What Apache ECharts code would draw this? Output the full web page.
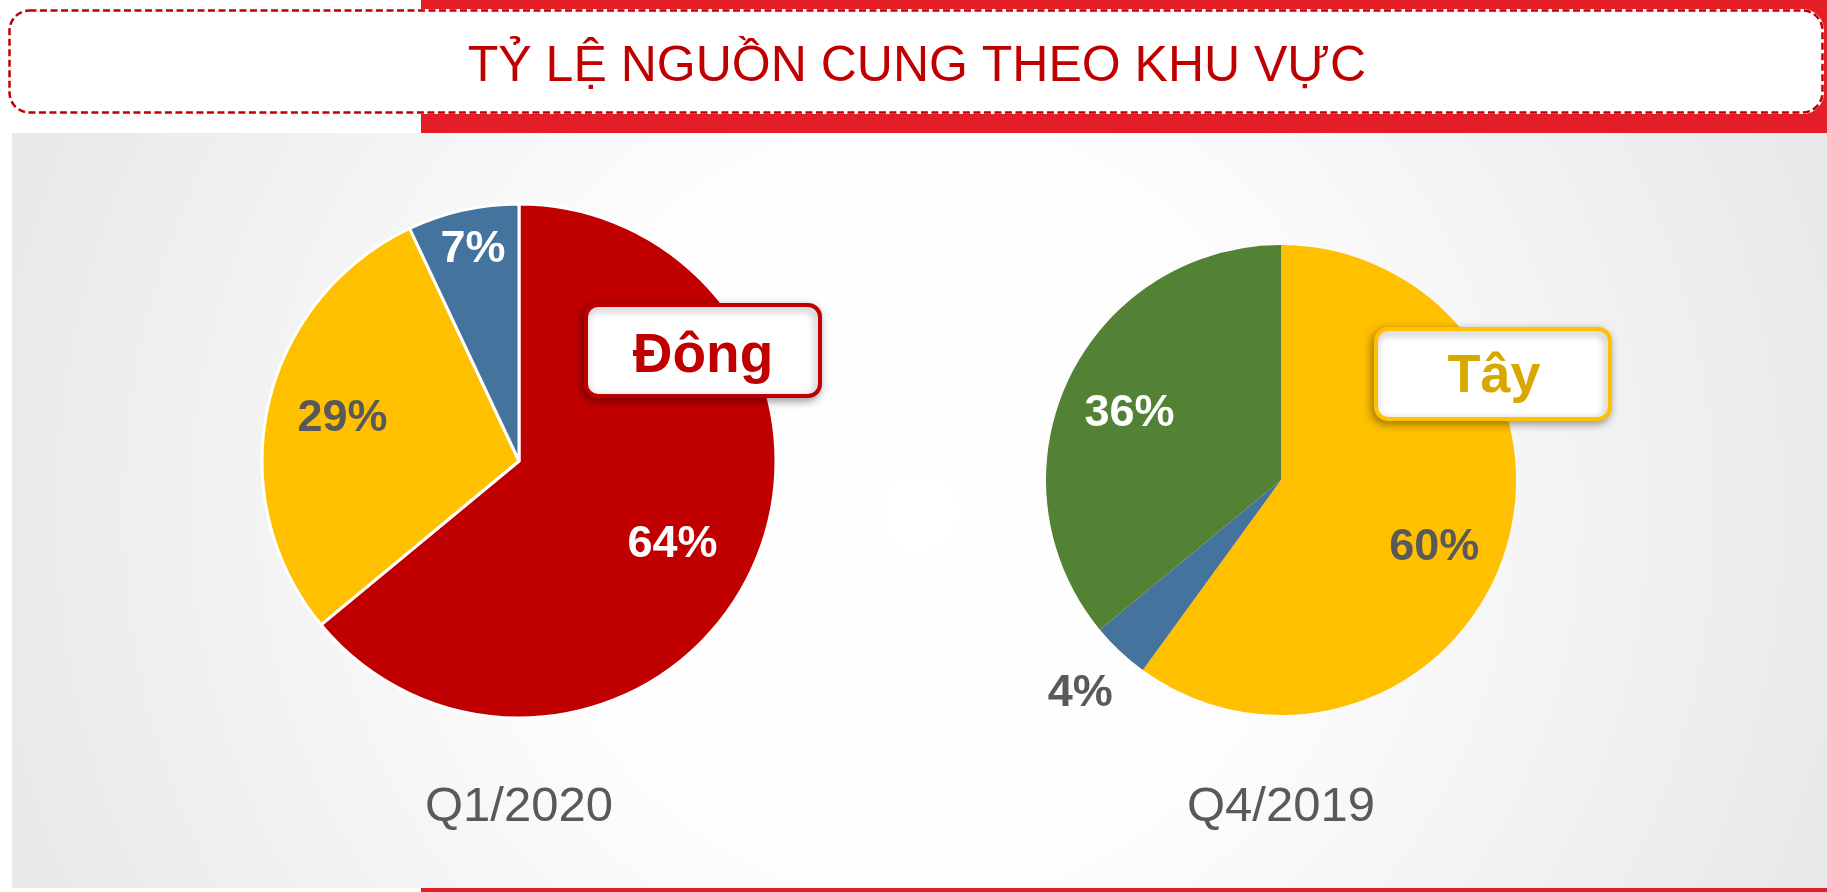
<!DOCTYPE html>
<html>
<head>
<meta charset="utf-8">
<script src="https://cdn.jsdelivr.net/npm/echarts@6/dist/echarts.min.js"></script>
<style>
html, body { margin: 0; padding: 0; background: #ffffff; }
#chart { width: 1827px; height: 892px; }
</style>
</head>
<body>
<div id="chart"></div>
<script>
// ---- data ----
const titleText = 'TỶ LỆ NGUỒN CUNG THEO KHU VỰC';
const periods = ['Q1/2020', 'Q4/2019'];
const q1Regions = ['Đông', 'Tây', 'Khác'];
const q1Values = [64, 29, 7];
const q4Regions = ['Tây', 'Khác', 'Khu vực B'];
const q4Values = [60, 4, 36];
const callouts = ['Đông', 'Tây'];

// ---- styles ----
const FONT = "'Liberation Sans', Arial, sans-serif";
const regionColors = { 'Đông': '#C00000', 'Tây': '#FFC000', 'Khác': '#44739D', 'Khu vực B': '#548235' };
const GREY_TEXT = '#595959';
const labelColors = [['#ffffff', GREY_TEXT, '#ffffff'], [GREY_TEXT, GREY_TEXT, '#ffffff']];
const pies = [
  { center: [519, 461], r: 257, border: 3 },
  { center: [1281, 480], r: 235, border: 0 }
];
// label nudges (series index of overlay -> data index -> [dx, dy])
const labelNudge = {
  2: { 0: [-12, 6], 1: [2, -3], 2: [-6, -33] },
  3: { 0: [-6, 16], 1: [-86, 91], 2: [0, 5] }
};

const datasets = [
  { names: q1Regions, values: q1Values },
  { names: q4Regions, values: q4Values }
];

const baseSeries = datasets.map((d, i) => ({
  type: 'pie',
  name: periods[i],
  center: pies[i].center,
  radius: pies[i].r,
  startAngle: 90,
  clockwise: true,
  avoidLabelOverlap: false,
  label: { show: false },
  labelLine: { show: false },
  emphasis: { disabled: true },
  silent: true,
  itemStyle: { borderColor: '#ffffff', borderWidth: pies[i].border },
  data: d.names.map((n, k) => ({ name: n, value: d.values[k], itemStyle: { color: regionColors[n] } }))
}));

const labelSeries = datasets.map((d, i) => ({
  type: 'pie',
  name: periods[i] + ' labels',
  center: pies[i].center,
  radius: [pies[i].r * 0.4, pies[i].r],
  startAngle: 90,
  clockwise: true,
  avoidLabelOverlap: false,
  silent: true,
  emphasis: { disabled: true },
  itemStyle: { color: 'rgba(0,0,0,0)', borderWidth: 0 },
  labelLine: { show: false },
  label: {
    show: true,
    position: 'inside',
    formatter: '{c}%',
    fontFamily: FONT,
    fontSize: 45,
    fontWeight: 'bold'
  },
  labelLayout: function (p) {
    const n = labelNudge[p.seriesIndex] && labelNudge[p.seriesIndex][p.dataIndex];
    return n ? { dx: n[0], dy: n[1] } : {};
  },
  data: d.names.map((n, k) => ({ name: n, value: d.values[k], label: { color: labelColors[i][k] } }))
}));

const graphics = [
  { type: 'rect', z: 0, shape: { x: 12, y: 133, width: 1815, height: 755 },
    style: { fill: { type: 'radial', x: 0.5, y: 0.5, r: 1.25,
      colorStops: [{ offset: 0, color: '#ffffff' }, { offset: 0.4, color: '#fdfdfd' }, { offset: 1, color: '#e9e9e9' }] } } },
  { type: 'rect', z: 0, shape: { x: 421, y: 0, width: 1406, height: 133 }, style: { fill: '#E31E27' } },
  { type: 'rect', z: 0, shape: { x: 421, y: 888, width: 1406, height: 4 }, style: { fill: '#E31E27' } },
  { type: 'rect', z: 1, shape: { x: 9.5, y: 10.5, width: 1813, height: 102, r: 20 },
    style: { fill: '#ffffff', stroke: '#ffffff', lineWidth: 3 } },
  { type: 'rect', z: 1, shape: { x: 9.5, y: 10.5, width: 1813, height: 102, r: 20 },
    style: { fill: 'none', stroke: '#C00000', lineWidth: 2.5, lineDash: [7, 3.5] } },
  { type: 'text', z: 2, x: 917, y: 67,
    style: { text: titleText, fill: '#C00000', font: '50px ' + FONT, align: 'center', verticalAlign: 'middle' } },
  // callout boxes
  { type: 'rect', z: 10, shape: { x: 586, y: 305, width: 234, height: 91, r: 12 },
    style: { fill: '#ffffff', stroke: '#C00000', lineWidth: 4, shadowBlur: 8, shadowColor: 'rgba(0,0,0,0.35)', shadowOffsetX: -2, shadowOffsetY: 3 } },
  { type: 'text', z: 11, x: 703, y: 357,
    style: { text: callouts[0], fill: '#C00000', font: 'bold 55px ' + FONT, align: 'center', verticalAlign: 'middle' } },
  { type: 'rect', z: 10, shape: { x: 1376, y: 329, width: 234, height: 90, r: 12 },
    style: { fill: '#ffffff', stroke: '#FFC000', lineWidth: 4, shadowBlur: 8, shadowColor: 'rgba(0,0,0,0.35)', shadowOffsetX: -2, shadowOffsetY: 3 } },
  { type: 'text', z: 11, x: 1494, y: 377,
    style: { text: callouts[1], fill: '#D9A800', font: 'bold 54px ' + FONT, align: 'center', verticalAlign: 'middle' } }
];
periods.forEach((p, i) => {
  graphics.push({ type: 'text', z: 2, x: pies[i].center[0], y: 807,
    style: { text: p, fill: GREY_TEXT, font: '49px ' + FONT, align: 'center', verticalAlign: 'middle' } });
});

const chart = echarts.init(document.getElementById('chart'), null, { renderer: 'canvas' });
chart.setOption({
  animation: false,
  backgroundColor: '#ffffff',
  graphic: { elements: graphics },
  series: baseSeries.concat(labelSeries)
});
</script>
</body>
</html>
